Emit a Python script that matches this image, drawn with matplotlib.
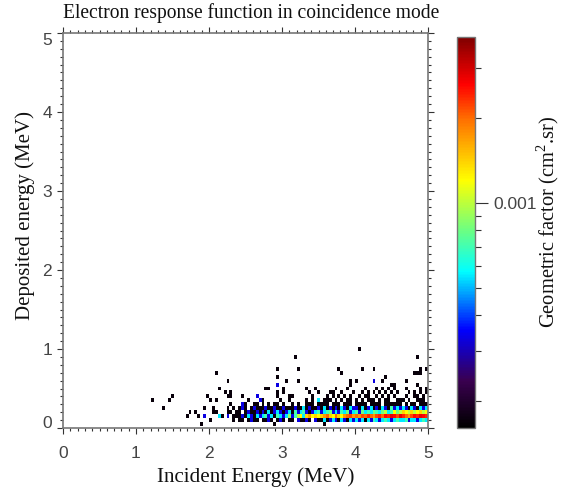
#!/usr/bin/env python3
import matplotlib
matplotlib.use("Agg")
import matplotlib.pyplot as plt
from matplotlib.colors import LinearSegmentedColormap, LogNorm
from matplotlib.ticker import FixedLocator, MultipleLocator, NullFormatter
import numpy as np

SERIF = "Liberation Serif"
SANS = "Liberation Sans"
TICK_GREY = "#444444"
AXIS_GREY = "#777777"

# values of the dense rows, in 1e-4 cm2.sr, incident energy bins 2.42 .. 4.98 MeV
band_start_energy = 2.42
band_010 = [1.7, 1.7, 0, 1.7, 3.3, 1.7, 1.7, 0,
            1.7, 1.7, 3.3, 1.7, 0, 1.7, 3.3, 1.7,
            0, 1.7, 1.7, 0, 3.3, 1.7, 1.7, 3.3,
            1.7, 0, 3.3, 1.7, 1.7, 5.5, 1.7, 3.3,
            5.5, 3.3, 1.7, 5.5, 3.3, 1.7, 5.5, 3.3,
            5.5, 3.3, 5.5, 1.7, 5.5, 3.3, 7, 5.5,
            3.3, 5.5, 7, 5.5, 3.3, 5.5, 7, 5.5,
            5.5, 7, 3.3, 5.5, 5.5, 3.3, 5.5, 7, 5.5]
band_015 = [1.7, 3.3, 1.7, 5.5, 3.3, 1.7, 5.5, 3.3,
            5.5, 7, 3.3, 5.5, 1.7, 7, 5.5, 3.3,
            5.5, 9, 3.3, 7, 10, 12, 5.5, 14,
            17, 12, 14, 12, 14, 17, 20, 14,
            12, 20, 14, 12, 17, 20, 22, 17,
            20, 17, 22, 20, 24, 20, 17, 22,
            24, 20, 26, 24, 28, 26, 22, 28,
            24, 20, 17, 22, 26, 24, 28, 26, 24]
band_020 = [1.7, 0, 1.7, 3.3, 1.7, 1.7, 3.3, 1.7,
            3.3, 1.7, 5.5, 1.7, 3.3, 5.5, 3.3, 1.7,
            3.3, 5.5, 1.7, 7, 3.3, 5.5, 7, 3.3,
            1.7, 3.3, 5.5, 7, 3.3, 5.5, 7, 8,
            3.3, 5.5, 3.3, 7, 5.5, 8, 3.3, 5.5,
            7, 3.3, 8, 5.5, 7, 5.5, 8, 7,
            5.5, 8, 10, 5.5, 7, 12, 8, 10,
            14, 12, 10, 14, 10, 12, 14, 10, 12]
band_025 = [1.7, 3.3, 1.7, 0, 1.7, 3.3, 1.7, 1.7,
            1.7, 3.3, 1.7, 1.7, 3.3, 1.7, 1.7, 3.3,
            1.7, 1.7, 1.7, 3.3, 1.7, 1.7, 5.5, 1.7,
            3.3, 1.7, 1.7, 3.3, 1.7, 5.5, 1.7, 3.3,
            1.7, 3.3, 1.7, 5.5, 3.3, 1.7, 5.5, 3.3,
            3.3, 1.7, 5.5, 1.7, 3.3, 5.5, 1.7, 3.3,
            1.7, 5.5, 3.3, 1.7, 7, 3.3, 5.5, 3.3,
            5.5, 3.3, 1.7, 5.5, 3.3, 1.7, 5.5, 3.3, 5.5]

# isolated low-level cells: incident energies per deposited energy row
row_005 = [1.90, 2.91, 3.57]
row_010 = [2.02, 2.34]
row_015 = [1.68, 1.84, 2.18, 2.34, 2.38]
row_020 = [1.75, 1.82, 2.04, 2.10, 2.24, 2.30, 2.38]
row_025 = [1.36, 1.94, 2.04, 2.27, 2.34]
row_030 = [2.31, 2.50, 2.61, 2.66, 2.73, 2.82, 2.90, 2.93, 3.02, 3.13, 3.21,
           3.33, 3.37, 3.41, 3.49, 3.53, 3.58, 3.62, 3.69, 3.73, 3.78, 3.86,
           3.89, 3.94, 4.01, 4.05, 4.09, 4.14, 4.21, 4.25, 4.29, 4.33, 4.41,
           4.45, 4.49, 4.53, 4.58, 4.62, 4.69, 4.77, 4.81, 4.89, 4.93, 4.97]
row_035 = [1.22, 1.44, 2.02, 2.11, 2.55, 2.75, 2.97, 3.11, 3.35, 3.41, 3.57,
           3.62, 3.65, 3.74, 3.81, 3.91, 3.94, 4.03, 4.09, 4.17, 4.21, 4.26,
           4.33, 4.41, 4.45, 4.57, 4.61, 4.67, 4.75, 4.85, 4.91, 4.95]
row_040 = [1.48, 1.98, 2.27, 2.31, 2.47, 2.94, 3.08, 3.14, 3.41, 3.61, 3.69,
           3.77, 3.85, 3.93, 4.05, 4.13, 4.17, 4.29, 4.37, 4.45, 4.53, 4.69,
           4.81, 4.85, 4.93]
row_045 = [2.22, 2.31, 2.93, 3.01, 3.38, 3.51, 3.65, 3.69, 3.83, 3.97, 4.11,
           4.19, 4.25, 4.33, 4.43, 4.51, 4.59, 4.73, 4.83, 4.89, 4.97]
row_050 = [2.15, 2.78, 2.81, 3.01, 3.35, 3.47, 3.73, 3.90, 4.15, 4.28, 4.37,
           4.44, 4.56, 4.72, 4.90, 4.96]
row_055 = [3.95, 4.50, 4.56, 4.84]
row_060 = [2.24, 3.05, 3.23, 3.95, 4.03, 4.37, 4.70]
row_065 = [2.93, 4.40]
row_070 = [2.08, 3.80, 4.82, 4.86, 4.89]
row_075 = [2.95, 3.23, 3.78, 4.09, 4.24, 4.88, 4.96]
row_090 = [3.17, 4.86]
row_100 = [4.07]

# a few brighter cells above the band (incident, deposited, value in 1e-4)
blue_x = [2.47, 2.64, 2.71, 2.95, 4.26, 3.49, 1.93, 2.15, 2.24]
blue_y = [0.30, 0.40, 0.35, 0.55, 0.60, 0.35, 0.15, 0.15, 0.15]
blue_v = [3.3, 3.3, 3.3, 3.3, 3.3, 5.5, 3.3, 5.5, 3.3]

BLACK_LEVEL = 1.7
x_ticks = [0, 1, 2, 3, 4, 5]
y_ticks = [0, 1, 2, 3, 4, 5]
cbar_major = [1e-3]
cbar_minor = [2e-4, 3e-4, 4e-4, 5e-4, 6e-4, 7e-4, 8e-4, 9e-4, 2e-3, 3e-3]

DX = 0.04
DY = 0.05


def build_grid():
    grid = np.zeros((101, 125))

    def put(x, y, v):
        grid[int(round(y / DY)), int(x / DX)] = v

    sparse = {0.05: row_005, 0.10: row_010, 0.15: row_015, 0.20: row_020,
              0.25: row_025, 0.30: row_030, 0.35: row_035, 0.40: row_040,
              0.45: row_045, 0.50: row_050, 0.55: row_055, 0.60: row_060,
              0.65: row_065, 0.70: row_070, 0.75: row_075, 0.90: row_090,
              1.00: row_100}
    for y, xs in sparse.items():
        for x in xs:
            put(x, y, BLACK_LEVEL)
    for y, vals in {0.10: band_010, 0.15: band_015, 0.20: band_020, 0.25: band_025}.items():
        for i, v in enumerate(vals):
            if v > 0:
                put(band_start_energy + i * DX, y, v)
    for x, y, v in zip(blue_x, blue_y, blue_v):
        put(x, y, v)
    return np.ma.masked_equal(grid * 1e-4, 0)


cmap = LinearSegmentedColormap.from_list("rainbow_black", [
    (0.00, "#000000"), (0.12, "#3a0050"), (0.25, "#0000ff"), (0.40, "#00ffff"),
    (0.50, "#66ff88"), (0.634, "#ffff00"), (0.79, "#ff7000"), (0.88, "#ff0000"),
    (1.00, "#800000")])
norm = LogNorm(vmin=1.6e-4, vmax=3.86e-3)

W, H = 584, 491
plt.rcParams["mathtext.fontset"] = "custom"
plt.rcParams["mathtext.rm"] = SERIF

fig = plt.figure(figsize=(W / 100, H / 100), dpi=100)
ax = fig.add_axes([63 / W, 1 - 428 / H, 365 / W, 395 / H])

x_edges = np.arange(126) * DX
y_edges = np.arange(102) * DY - DY / 2
mesh = ax.pcolormesh(x_edges, y_edges, build_grid(), cmap=cmap, norm=norm, antialiased=False)

ax.set_xlim(0, 5)
ax.set_ylim(0, 5)
ax.set_xticks(x_ticks)
ax.set_yticks(y_ticks)
ax.xaxis.set_minor_locator(MultipleLocator(0.1))
ax.yaxis.set_minor_locator(MultipleLocator(0.1))
ax.tick_params(which="major", direction="out", length=4, width=0.8, color="#333333",
               top=True, right=True, labelsize=12.5, labelcolor=TICK_GREY)
ax.tick_params(axis="x", which="major", pad=9)
ax.tick_params(axis="y", which="major", pad=3.8)
ax.tick_params(which="minor", direction="out", length=2, width=0.8, color="#333333",
               top=True, right=True)
for lab in ax.get_xticklabels() + ax.get_yticklabels():
    lab.set_fontfamily(SANS)
# the end labels sit inside the axis range
ax.get_yticklabels()[0].set_va("baseline")
ax.get_yticklabels()[-1].set_va("top")
for spine in ax.spines.values():
    spine.set_color(AXIS_GREY)
    spine.set_linewidth(1.2)

cax = fig.add_axes([457 / W, 1 - 428 / H, 18 / W, 391 / H])
cbar = fig.colorbar(mesh, cax=cax)
cbar.outline.set_edgecolor(AXIS_GREY)
cbar.outline.set_linewidth(1.0)
cax.yaxis.set_major_locator(FixedLocator(cbar_major))
cax.yaxis.set_minor_locator(FixedLocator(cbar_minor))
cax.yaxis.set_major_formatter(lambda v, pos: "0.001")
cax.yaxis.set_minor_formatter(NullFormatter())
cax.tick_params(which="major", length=9, width=0.8, color="#333333", labelsize=12.5,
                labelcolor=TICK_GREY, pad=4)
cax.tick_params(which="minor", length=4.5, width=0.8, color="#333333")
for lab in cax.get_yticklabels():
    lab.set_fontfamily(SANS)

fig.text(251.5 / W, 1 - 13 / H, "Electron response function in coincidence mode",
         family=SERIF, fontsize=14.05, ha="center", va="center", color="#111111")
fig.text(255.5 / W, 1 - 477 / H, "Incident Energy (MeV)",
         family=SERIF, fontsize=15.1, ha="center", va="center", color="#111111")
fig.text(25 / W, 1 - 215 / H, "Deposited energy (MeV)",
         family=SERIF, fontsize=15, rotation=90, ha="center", va="center", color="#111111")
fig.text(548 / W, 1 - 222 / H, r"Geometric factor (cm$^{2}$.sr)",
         family=SERIF, fontsize=14.8, rotation=90, ha="center", va="center", color="#111111")

fig.savefig("out.png", dpi=100)
